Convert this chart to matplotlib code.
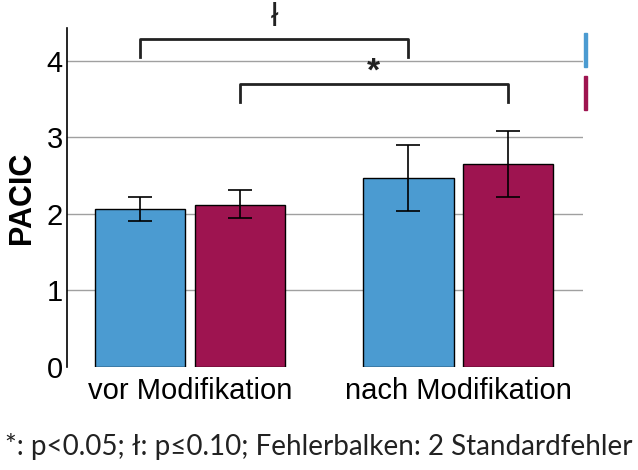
import numpy as np
import matplotlib
matplotlib.use("Agg")
import matplotlib.pyplot as plt
from matplotlib.patches import Rectangle

# data
groups = ["vor Modifikation", "nach Modifikation"]
blue_vals = [2.06, 2.47]
blue_lo = [1.91, 2.04]
blue_hi = [2.22, 2.90]
red_vals = [2.12, 2.65]
red_lo = [1.95, 2.22]
red_hi = [2.31, 3.08]
yticks = [0, 1, 2, 3, 4]
footnote = "*: p<0.05; ł: p≤0.10; Fehlerbalken: 2 Standardfehler"

blue = "#4b9bd1"
red = "#9e1450"

plt.rcParams["font.family"] = ["Liberation Sans", "DejaVu Sans"]

fig = plt.figure(figsize=(6.38, 4.70), dpi=100)
ax = fig.add_axes([67 / 638, 1 - 367 / 470, (583 - 67) / 638, (367 - 28) / 470])

x = np.arange(len(groups))
off = 0.185
w = 0.336

def err(vals, lo, hi):
    v = np.array(vals)
    return [v - np.array(lo), np.array(hi) - v]

ekw = dict(elinewidth=1.2, capthick=1.2, ecolor="black")
ax.bar(x - off, blue_vals, w, color=blue, edgecolor="black", linewidth=1,
       yerr=err(blue_vals, blue_lo, blue_hi), capsize=8.5, error_kw=ekw, zorder=3)
ax.bar(x + off, red_vals, w, color=red, edgecolor="black", linewidth=1,
       yerr=err(red_vals, red_lo, red_hi), capsize=8.5, error_kw=ekw, zorder=3)

ax.set_xlim(-0.459, 1.466)
ax.set_ylim(0, 4.43)
ax.set_yticks(yticks)
ax.set_yticklabels([str(t) for t in yticks], fontsize=21)
ax.set_xticks(x)
ax.set_xticklabels(groups, fontsize=21)
ax.tick_params(axis="y", length=0, pad=3)
ax.tick_params(axis="x", length=0, pad=7)
for t in yticks[1:]:
    ax.axhline(t, color="#a0a0a0", linewidth=1, zorder=1)
for s in ["top", "right", "bottom"]:
    ax.spines[s].set_visible(False)
ax.spines["left"].set_linewidth(1.2)
ax.set_ylabel("PACIC", fontsize=22, fontweight="bold", labelpad=7)

# significance brackets
def bracket(x1, x2, ytop, ybot, label, ty, size, weight):
    ax.plot([x1, x1, x2, x2], [ybot, ytop, ytop, ybot], color="#222222",
            linewidth=2, clip_on=False, zorder=4)
    ax.text((x1 + x2) / 2, ty, label, ha="center", va="center", fontsize=size,
            color="#222222", fontweight=weight, clip_on=False)

bracket(x[0] - off, x[1] - off, 4.28, 4.05, "ł", 4.57, 24, "normal")
bracket(x[0] + off, x[1] + off, 3.70, 3.46, "*", 3.86, 24, "bold")

# cut-off legend swatches at the right edge
fig.patches.append(Rectangle((584 / 638, 1 - 67 / 470), 3 / 638, 34 / 470,
                             transform=fig.transFigure, color=blue))
fig.patches.append(Rectangle((584 / 638, 1 - 110 / 470), 3 / 638, 34 / 470,
                             transform=fig.transFigure, color=red))

fig.text(0.5, 1 - 447 / 470, footnote, ha="center", va="center", fontsize=20,
         family=["Lato", "DejaVu Sans"], color="#222222")

fig.savefig("out.png", dpi=100)
